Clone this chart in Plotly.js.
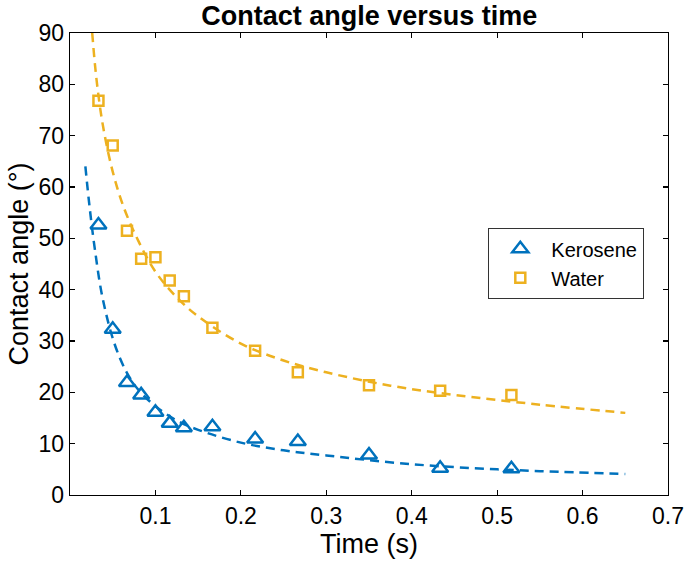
<!DOCTYPE html>
<html>
<head>
<meta charset="utf-8">
<script src="https://cdn.plot.ly/plotly-3.0.1.min.js"></script>
<style>
  html, body { margin: 0; padding: 0; background: #fff; }
  #chart { width: 685px; height: 567px; }
</style>
</head>
<body>
<div id="chart"></div>
<script>
// measured points (time in s, angle in degrees)
const time_s = [0.0333, 0.05, 0.0667, 0.0833, 0.1, 0.1167, 0.1333, 0.1667, 0.2167, 0.2667, 0.35, 0.4333, 0.5167];
const kerosene_deg = [52.6, 32.3, 21.9, 19.5, 16.1, 14.0, 13.1, 13.3, 10.9, 10.4, 7.8, 5.2, 5.1];
const water_deg = [76.8, 68.1, 51.5, 46.0, 46.3, 41.8, 38.7, 32.6, 28.1, 23.9, 21.4, 20.3, 19.5];

// fitted curves
const kero_fit_x = [0.018, 0.023, 0.029, 0.038, 0.052, 0.066, 0.08, 0.1, 0.125, 0.15, 0.2, 0.25, 0.3, 0.4, 0.5, 0.575, 0.65];
const kero_fit_y = [64, 56, 48, 38.5, 29.5, 24, 20.5, 17.3, 14.5, 12.7, 10.2, 8.7, 7.7, 6.0, 5.0, 4.5, 4.1];
const water_fit_x = [0.026, 0.031, 0.0385, 0.05, 0.063, 0.08, 0.1, 0.125, 0.15, 0.2, 0.25, 0.3, 0.375, 0.45, 0.55, 0.65];
const water_fit_y = [90, 81, 72, 63, 56, 49.5, 43.5, 38.5, 34.8, 29.5, 26.2, 23.9, 21.3, 19.5, 17.6, 16.0];

const x_ticks = [0.1, 0.2, 0.3, 0.4, 0.5, 0.6, 0.7];
const y_ticks = [0, 10, 20, 30, 40, 50, 60, 70, 80, 90];

const BLUE = '#0072BD';
const YELLOW = '#EDB120';
const FONT = 'Liberation Sans, Arial, sans-serif';

const fit_line = (x, y, color) => ({
    x: x, y: y,
    mode: 'lines',
    type: 'scatter',
    line: {color: color, width: 2.5, dash: '9px,6px', shape: 'spline'},
    showlegend: false,
    hoverinfo: 'skip'
});

const data = [
    fit_line(kero_fit_x, kero_fit_y, BLUE),
    fit_line(water_fit_x, water_fit_y, YELLOW),
    {
        x: time_s, y: kerosene_deg,
        mode: 'markers', type: 'scatter', name: 'Kerosene',
        marker: {symbol: 'triangle-up-open', size: 14, color: BLUE, line: {width: 2.5, color: BLUE}}
    },
    {
        x: time_s, y: water_deg,
        mode: 'markers', type: 'scatter', name: 'Water',
        marker: {symbol: 'square-open', size: 10, color: YELLOW, line: {width: 2.5, color: YELLOW}}
    }
];

const axis_common = {
    showline: true, linecolor: '#000', linewidth: 1.3, mirror: 'ticks',
    ticks: 'inside', ticklen: 5, tickcolor: '#000', tickwidth: 1.2,
    showgrid: false, zeroline: false,
    tickfont: {family: FONT, size: 23, color: '#000'}
};

const layout = {
    width: 685, height: 567,
    margin: {l: 70, r: 17, t: 33, b: 72},
    paper_bgcolor: '#fff', plot_bgcolor: '#fff',
    title: {
        text: '<b>Contact angle versus time</b>',
        font: {family: FONT, size: 27, color: '#000'},
        x: 0.539, xanchor: 'center', y: 0.972, yanchor: 'middle'
    },
    xaxis: Object.assign({}, axis_common, {
        range: [0, 0.7], tickvals: x_ticks, ticktext: x_ticks.map(String),
        title: {text: 'Time (s)', font: {family: FONT, size: 27, color: '#000'}, standoff: 2}
    }),
    yaxis: Object.assign({}, axis_common, {
        range: [0, 90], tickvals: y_ticks,
        title: {text: 'Contact angle (°)', font: {family: FONT, size: 27, color: '#000'}, standoff: 2}
    }),
    legend: {
        x: 0.699, y: 0.578, xanchor: 'left', yanchor: 'top',
        bordercolor: '#333', borderwidth: 1.3, bgcolor: '#fff',
        font: {family: FONT, size: 20, color: '#000'},
        itemwidth: 52, tracegroupgap: 0
    },
    showlegend: true
};

Plotly.newPlot('chart', data, layout, {displayModeBar: false, staticPlot: true});
</script>
</body>
</html>
